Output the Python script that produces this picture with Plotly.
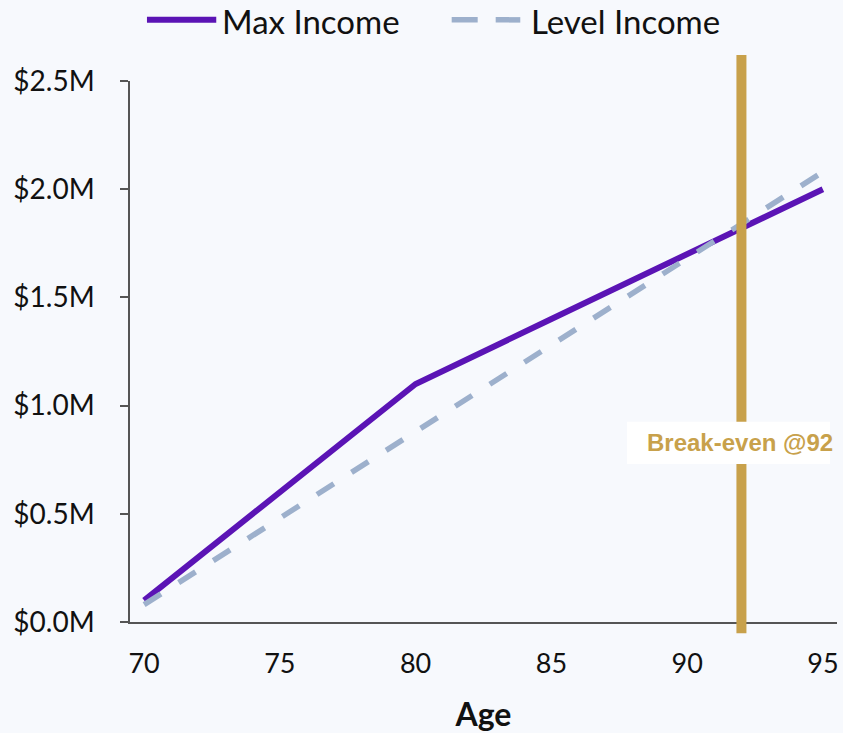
import plotly.graph_objects as go

# Cumulative income by age for two payout strategies ($ millions)
ages = [70, 75, 80, 85, 90, 95]
max_income = [0.10, 0.60, 1.10, 1.40, 1.70, 2.00]
level_income = [0.08, 0.48, 0.88, 1.28, 1.68, 2.08]
break_even_age = 92

y_ticks = [0.0, 0.5, 1.0, 1.5, 2.0, 2.5]
y_tick_text = ["$0.0M", "$0.5M", "$1.0M", "$1.5M", "$2.0M", "$2.5M"]
x_ticks = [70, 75, 80, 85, 90, 95]

PURPLE = "#5B14B5"
STEEL = "#9DB0CC"
GOLD = "#C8A14B"
BG = "#F7F9FD"
AXIS = "#555555"
FONT = "Lato"

fig = go.Figure()
fig.add_trace(go.Scatter(
    x=ages, y=max_income, mode="lines", name="Max Income",
    line=dict(color=PURPLE, width=6),
))
fig.add_trace(go.Scatter(
    x=ages, y=level_income, mode="lines", name="Level Income",
    line=dict(color=STEEL, width=5.5, dash="20px,21px"),
))

shapes = [
    # break-even marker, running slightly past the plot area
    dict(type="line", xref="x", yref="paper", x0=break_even_age, x1=break_even_age,
         y0=-0.021, y1=1.048, line=dict(color=GOLD, width=10), layer="above"),
    # white label box over the marker
    dict(type="rect", xref="paper", yref="paper", x0=0.703, x1=0.990,
         y0=0.292, y1=0.370, fillcolor="white", line=dict(width=0), layer="above"),
    # legend keys
    dict(type="line", xref="paper", yref="paper", x0=0.024, x1=0.122,
         y0=1.113, y1=1.113, line=dict(color=PURPLE, width=6)),
    dict(type="line", xref="paper", yref="paper", x0=0.455, x1=0.552,
         y0=1.113, y1=1.113, line=dict(color=STEEL, width=5.5, dash="26px,18px")),
]

annotations = [
    dict(text=f"Break-even @{break_even_age}", xref="paper", yref="paper",
         x=0.728, y=0.331, xanchor="left", yanchor="middle", showarrow=False,
         font=dict(family="Liberation Sans", size=24, color=GOLD, weight="bold")),
    dict(text="Max Income", xref="paper", yref="paper", x=0.129, y=1.149,
         xanchor="left", yanchor="top", showarrow=False, borderpad=0,
         font=dict(family=FONT, size=33, color="#111111")),
    dict(text="Level Income", xref="paper", yref="paper", x=0.566, y=1.149,
         xanchor="left", yanchor="top", showarrow=False, borderpad=0,
         font=dict(family=FONT, size=33, color="#111111")),
]

fig.update_layout(
    width=843, height=733,
    margin=dict(l=130, r=6, t=81, b=111, autoexpand=False),
    paper_bgcolor=BG, plot_bgcolor=BG,
    showlegend=False,
    shapes=shapes, annotations=annotations,
    font=dict(family=FONT, size=27, color="#111111"),
)
fig.update_xaxes(
    range=[69.48, 95.52], tickvals=x_ticks, showgrid=False, zeroline=False,
    showline=True, linecolor=AXIS, linewidth=1.5,
    ticks="outside", ticklen=17, tickcolor="rgba(0,0,0,0)",
    tickfont=dict(family=FONT, size=27, color="#111111"),
    title=dict(text="Age", standoff=26,
               font=dict(family=FONT, size=32, color="#111111", weight="bold")),
)
fig.update_yaxes(
    range=[0, 2.5], tickvals=y_ticks, ticktext=y_tick_text,
    showgrid=False, zeroline=False,
    showline=True, linecolor=AXIS, linewidth=1.5,
    ticks="outside", ticklen=8, tickcolor=AXIS, tickwidth=1.5,
    ticklabelstandoff=20,
    tickfont=dict(family=FONT, size=28, color="#111111"),
)

fig.write_html("out.html")
